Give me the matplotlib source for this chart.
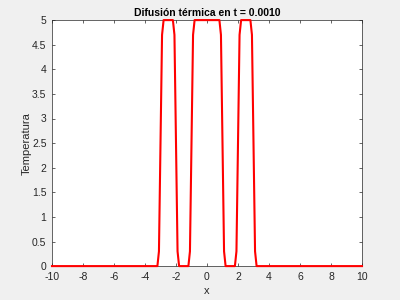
import matplotlib.pyplot as plt

plt.rcParams["font.family"] = ["Liberation Sans", "DejaVu Sans"]

# breakpoints of the temperature profile (flat at 0 elsewhere)
x = [-10, -3.2, -3.1, -3.0, -2.9, -2.8, -2.2, -2.1, -2.0, -1.9, -1.8,
     -1.2, -1.1, -1.0, -0.9, -0.8, 0.8, 0.9, 1.0, 1.1, 1.2,
     1.8, 1.9, 2.0, 2.1, 2.2, 2.8, 2.9, 3.0, 3.1, 3.2, 10]
temp = [0, 0, 0.3, 2.5, 4.7, 5, 5, 4.7, 2.5, 0.3, 0,
        0, 0.3, 2.5, 4.7, 5, 5, 4.7, 2.5, 0.3, 0,
        0, 0.3, 2.5, 4.7, 5, 5, 4.7, 2.5, 0.3, 0, 0]

xticks = [-10, -8, -6, -4, -2, 0, 2, 4, 6, 8, 10]
yticks = [0, 0.5, 1, 1.5, 2, 2.5, 3, 3.5, 4, 4.5, 5]
ytick_labels = ["0", "0.5", "1", "1.5", "2", "2.5", "3", "3.5", "4", "4.5", "5"]

grey = "#262626"
fig = plt.figure(figsize=(4, 3), dpi=100, facecolor="#f0f0f0")
ax = fig.add_axes([0.13, 0.113, 0.775, 0.82])
ax.plot(x, temp, color="red", linewidth=1.5, clip_on=False, zorder=3)

ax.set_xlim(-10, 10)
ax.set_ylim(0, 5)
ax.set_xticks(xticks)
ax.set_xticklabels([str(t) for t in xticks])
ax.set_yticks(yticks)
ax.set_yticklabels(ytick_labels)
ax.tick_params(direction="in", top=True, right=True, length=2.5,
               width=0.5, labelsize=7.5, colors=grey)
ax.tick_params(axis="x", pad=4)
ax.tick_params(axis="y", pad=4)
for sp in ax.spines.values():
    sp.set_color(grey)
    sp.set_linewidth(0.5)

ax.set_xlabel("x", fontsize=8, color=grey, labelpad=3)
ax.set_ylabel("Temperatura", fontsize=8, color=grey, labelpad=0.5)
ax.set_title("Difusión térmica en t = 0.0010", fontsize=7.5,
             fontweight="bold", color="black", pad=3)

fig.savefig("out.png", dpi=100, facecolor=fig.get_facecolor())
